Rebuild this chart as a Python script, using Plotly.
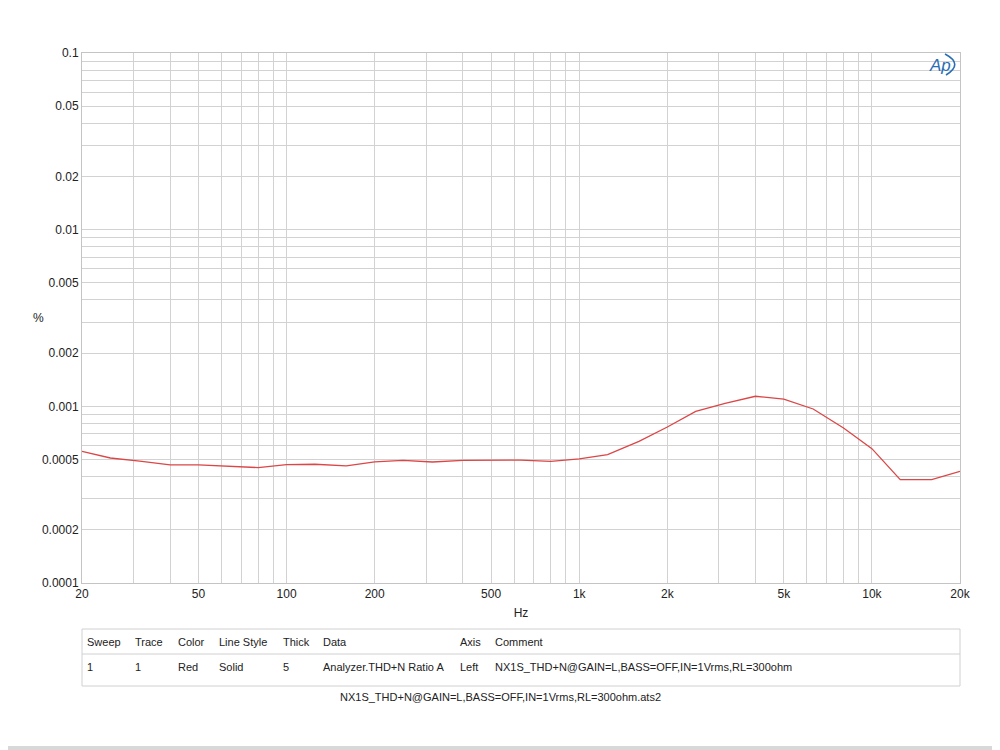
import plotly.graph_objects as go
import numpy as np

# ---- data ----
freq_hz = [20, 25, 31.5, 40, 50, 63, 80, 100, 125, 160, 200, 250, 315, 400, 500,
           630, 800, 1000, 1250, 1600, 2000, 2500, 3150, 4000, 5000, 6300, 8000,
           10000, 12500, 16000, 20000]
thd_pct = [0.000556, 0.000510, 0.000489, 0.000466, 0.000466, 0.000457, 0.000450,
           0.000468, 0.000470, 0.000460, 0.000485, 0.000494, 0.000484, 0.000494,
           0.000494, 0.000496, 0.000488, 0.000504, 0.000533, 0.000634, 0.000764,
           0.000937, 0.00104, 0.00114, 0.00110, 0.000966, 0.000754, 0.000576,
           0.000385, 0.000385, 0.000429]

x_labels = {20: "20", 50: "50", 100: "100", 200: "200", 500: "500", 1000: "1k",
            2000: "2k", 5000: "5k", 10000: "10k", 20000: "20k"}
y_labels = {0.1: "0.1", 0.05: "0.05", 0.02: "0.02", 0.01: "0.01", 0.005: "0.005",
            0.002: "0.002", 0.001: "0.001", 0.0005: "0.0005", 0.0002: "0.0002",
            0.0001: "0.0001"}

table_header = ["Sweep", "Trace", "Color", "Line Style", "Thick", "Data", "Axis", "Comment"]
table_row = ["1", "1", "Red", "Solid", "5", "Analyzer.THD+N Ratio A", "Left",
             "NX1S_THD+N@GAIN=L,BASS=OFF,IN=1Vrms,RL=300ohm"]
footer_text = "NX1S_THD+N@GAIN=L,BASS=OFF,IN=1Vrms,RL=300ohm.ats2"

# ---- grid values ----
xgrid = []
for dec in [10, 100, 1000, 10000]:
    for m in range(1, 10):
        v = m * dec
        if 20 <= v <= 20000:
            xgrid.append(v)
ygrid = []
for dec in [0.0001, 0.001, 0.01]:
    for m in range(1, 10):
        ygrid.append(round(m * dec, 6))
ygrid.append(0.1)

def xlab(v):
    return x_labels.get(v, "")

def ylab(v):
    for k, t in y_labels.items():
        if abs(k - v) < 1e-9:
            return t
    return ""

FONT = "Liberation Sans, Arial, sans-serif"

fig = go.Figure()
fig.add_trace(go.Scatter(x=freq_hz, y=thd_pct, mode="lines",
                         line=dict(color="#dc4646", width=1.3), showlegend=False,
                         hoverinfo="skip"))

OFF = 8  # page body margin
W, H = 1000 - OFF, 750 - OFF
L, R, T, B = 82 - OFF, 960 - OFF, 53 - OFF, 583 - OFF

fig.update_layout(
    width=W, height=H,
    margin=dict(l=L, r=W - R, t=T, b=H - B),
    paper_bgcolor="white", plot_bgcolor="white",
    font=dict(family=FONT, size=12, color="#222222"),
    xaxis=dict(type="log", range=[np.log10(20), np.log10(20000)],
               tickmode="array", tickvals=xgrid, ticktext=[xlab(v) for v in xgrid],
               showgrid=True, gridcolor="#d2d2d2", gridwidth=1,
               showline=True, linecolor="#c4c4c4", mirror=True, zeroline=False,
               ticks="", tickfont=dict(size=12, color="#222"),
               title=dict(text="Hz", font=dict(size=12, color="#222"), standoff=8)),
    yaxis=dict(type="log", range=[-4, -1],
               tickmode="array", tickvals=ygrid, ticktext=[ylab(v) for v in ygrid],
               showgrid=True, gridcolor="#d2d2d2", gridwidth=1,
               showline=True, linecolor="#c4c4c4", mirror=True, zeroline=False,
               ticks="", tickfont=dict(size=12, color="#222"), title=None),
)

# page pixel -> paper coordinates
def px(x):
    return (x - OFF - L) / (R - L)

def py(y):
    return (B - (y - OFF)) / (B - T)

shapes = []
annotations = []

# y-axis unit
annotations.append(dict(xref="paper", yref="paper", x=px(31), y=py(318), text="%",
                        showarrow=False, font=dict(size=12, color="#222")))

# table box
shapes.append(dict(type="rect", xref="paper", yref="paper", x0=px(82), x1=px(960),
                   y0=py(686), y1=py(629), line=dict(color="#d0d0d0", width=1),
                   fillcolor="rgba(0,0,0,0)"))
shapes.append(dict(type="line", xref="paper", yref="paper", x0=px(82), x1=px(960),
                   y0=py(654), y1=py(654), line=dict(color="#d0d0d0", width=1)))
col_x = [85, 133, 176, 217, 281, 321, 458, 493]
for cx, h, r in zip(col_x, table_header, table_row):
    annotations.append(dict(xref="paper", yref="paper", x=px(cx), y=py(642), text=h,
                            xanchor="left", yanchor="middle", showarrow=False,
                            font=dict(size=11, color="#222")))
    annotations.append(dict(xref="paper", yref="paper", x=px(cx), y=py(667), text=r,
                            xanchor="left", yanchor="middle", showarrow=False,
                            font=dict(size=11, color="#222")))
annotations.append(dict(xref="paper", yref="paper", x=px(500), y=py(697), text=footer_text,
                        xanchor="center", yanchor="middle", showarrow=False,
                        font=dict(size=11, color="#222")))

# AP logo
annotations.append(dict(xref="paper", yref="paper", x=px(940), y=py(65), text="<i>Ap</i>",
                        xanchor="center", yanchor="middle", showarrow=False,
                        font=dict(size=17, color="#2a6db5", family=FONT)))
shapes.append(dict(type="path", xref="paper", yref="paper",
                   path="M {} {} Q {} {} {} {}".format(px(945), py(54), px(964), py(64),
                                                        px(946), py(75)),
                   line=dict(color="#2a6db5", width=1.6)))

# bottom gray band
shapes.append(dict(type="rect", xref="paper", yref="paper", x0=px(0), x1=px(1000),
                   y0=py(750), y1=py(746), line=dict(width=0), fillcolor="#d8d8d8"))

fig.update_layout(shapes=shapes, annotations=annotations)
fig.write_html("out.html")
